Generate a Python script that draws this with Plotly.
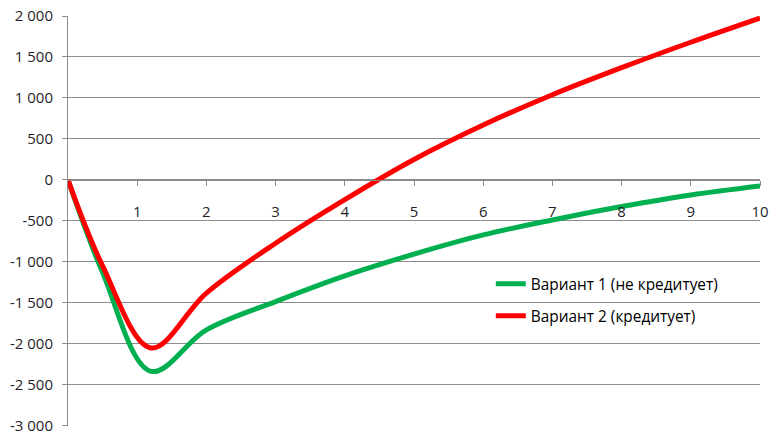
import plotly.graph_objects as go

# Years and cumulative cash flow for the two options
years = [0, 0.5, 1.2, 2, 3, 4, 5, 6, 7, 8, 9, 10]
variant1 = [0, -1130, -2335, -1830, -1484, -1170, -905, -671, -488, -325, -183, -73]
variant2 = [0, -1049, -2050, -1380, -772, -240, 250, 670, 1040, 1370, 1680, 1975]
series_names = ["Вариант 1 (не кредитует)", "Вариант 2 (кредитует)"]

y_ticks = [-3000, -2500, -2000, -1500, -1000, -500, 0, 500, 1000, 1500, 2000]
y_tick_text = ["-3 000", "-2 500", "-2 000", "-1 500", "-1 000", "-500", "0",
               "500", "1 000", "1 500", "2 000"]
x_ticks = [1, 2, 3, 4, 5, 6, 7, 8, 9, 10]

GRID = "#8c8c8c"
FONT = "Open Sans"
TEXT = "#1f1f2a"

fig = go.Figure()
fig.add_trace(go.Scatter(
    x=years, y=variant1, name=series_names[0], mode="lines",
    line=dict(color="#00B050", width=5, shape="spline", smoothing=1),
    legend="legend",
))
fig.add_trace(go.Scatter(
    x=years, y=variant2, name=series_names[1], mode="lines",
    line=dict(color="#FF0000", width=5, shape="spline", smoothing=1),
    legend="legend2",
))

legend_style = dict(
    bgcolor="rgba(0,0,0,0)", borderwidth=0,
    font=dict(family=FONT, size=15.4, color="#000000"),
    xanchor="left", yanchor="middle", itemwidth=30,
)

fig.update_layout(
    width=770, height=433,
    margin=dict(l=68, r=10, t=16, b=7, autoexpand=False),
    paper_bgcolor="white", plot_bgcolor="white",
    font=dict(family=FONT, size=15, color=TEXT),
    showlegend=True,
    legend=dict(x=0.611, y=(-1270 + 3000) / 5000, **legend_style),
    legend2=dict(x=0.611, y=(-1660 + 3000) / 5000, **legend_style),
    xaxis=dict(
        range=[0, 10], tickvals=x_ticks, ticktext=[str(v) for v in x_ticks],
        showgrid=False, zeroline=False,
        showline=True, linecolor=GRID, linewidth=1,
        ticks="outside", ticklen=5, tickcolor=GRID,
        anchor="free", position=3000 / 5002,
        ticklabelstandoff=13,
        tickfont=dict(family=FONT, size=15, color=TEXT),
    ),
    yaxis=dict(
        range=[-3002, 2000], tickvals=y_ticks, ticktext=y_tick_text,
        showgrid=True, gridcolor=GRID, gridwidth=1, zeroline=False,
        showline=True, linecolor=GRID, linewidth=1,
        ticks="outside", ticklen=5, tickcolor=GRID,
        ticklabelstandoff=6, ticklabeloverflow="allow",
        tickfont=dict(family=FONT, size=15, color=TEXT),
    ),
)

fig.write_html("out.html")
